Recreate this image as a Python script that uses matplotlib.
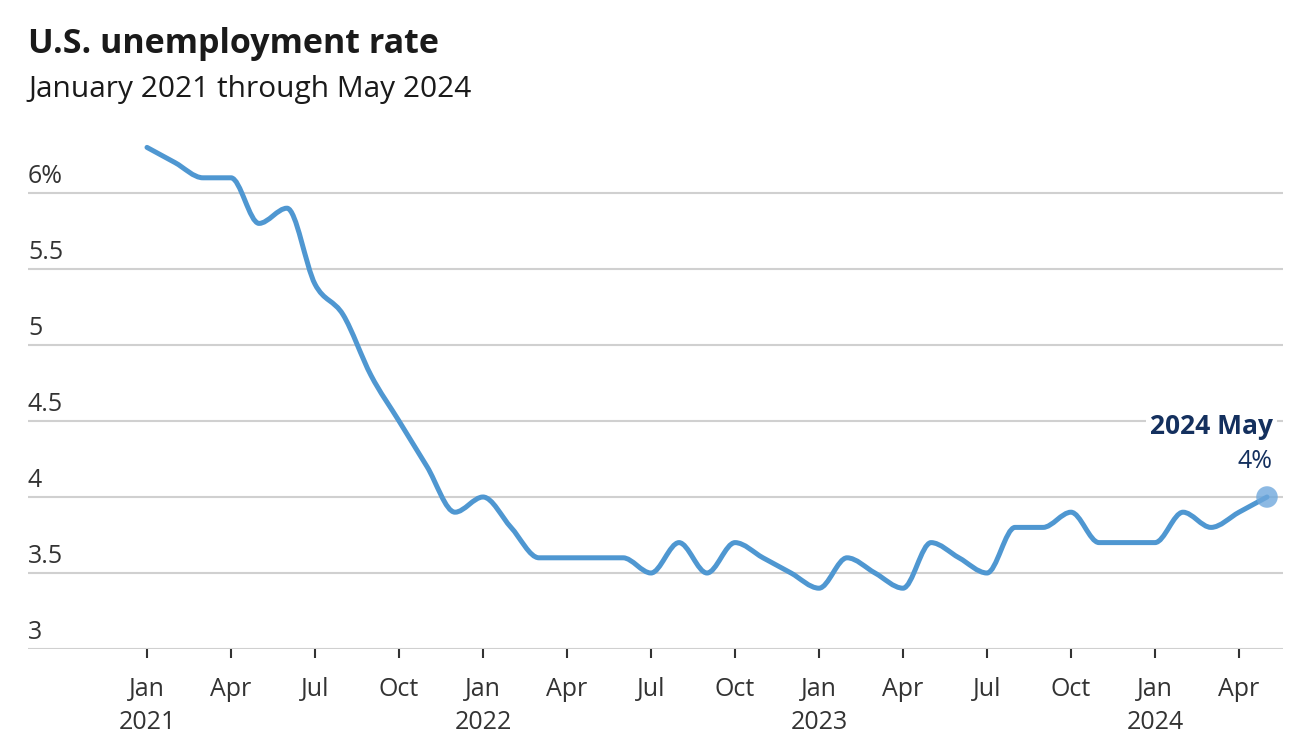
import numpy as np
import matplotlib
matplotlib.use('Agg')
import matplotlib.pyplot as plt
from matplotlib.path import Path
from matplotlib.patches import PathPatch
from matplotlib.transforms import offset_copy

# Monthly unemployment rate, Jan 2021 .. May 2024 (percent)
rate_2021 = [6.3, 6.2, 6.1, 6.1, 5.8, 5.9, 5.4, 5.2, 4.8, 4.5, 4.2, 3.9]
rate_2022 = [4.0, 3.8, 3.6, 3.6, 3.6, 3.6, 3.5, 3.7, 3.5, 3.7, 3.6, 3.5]
rate_2023 = [3.4, 3.6, 3.5, 3.4, 3.7, 3.6, 3.5, 3.8, 3.8, 3.9, 3.7, 3.7]
rate_2024 = [3.7, 3.9, 3.8, 3.9, 4.0]
rates = np.array(rate_2021 + rate_2022 + rate_2023 + rate_2024)
months = np.arange(len(rates))  # 0 = Jan 2021

month_names = ['Jan', 'Apr', 'Jul', 'Oct']
years = [2021, 2022, 2023, 2024]
y_ticks = [3, 3.5, 4, 4.5, 5, 5.5, 6]
y_labels = ['3', '3.5', '4', '4.5', '5', '5.5', '6%']

LINE = '#4f97d1'
GRID = '#d0d0d0'
TEXT = '#333333'
NAVY = '#14305e'


def monotone_path(x, y):
    # monotone cubic (like d3.curveMonotoneX) as bezier segments
    n = len(x)
    h = np.diff(x)
    d = np.diff(y) / h
    m = np.zeros(n)
    for i in range(1, n - 1):
        if d[i - 1] * d[i] > 0:
            p = (d[i - 1] * h[i] + d[i] * h[i - 1]) / (h[i - 1] + h[i])
            m[i] = (np.sign(d[i - 1]) + np.sign(d[i])) * min(abs(d[i - 1]), abs(d[i]), 0.5 * abs(p))
    m[0] = (3 * d[0] - m[1]) / 2
    m[-1] = (3 * d[-1] - m[-2]) / 2
    verts = [(x[0], y[0])]
    codes = [Path.MOVETO]
    for i in range(n - 1):
        dx = h[i] / 3
        verts += [(x[i] + dx, y[i] + dx * m[i]),
                  (x[i + 1] - dx, y[i + 1] - dx * m[i + 1]),
                  (x[i + 1], y[i + 1])]
        codes += [Path.CURVE4] * 3
    return Path(verts, codes)


plt.rcParams['font.family'] = ['Open Sans', 'DejaVu Sans']

fig = plt.figure(figsize=(13.03, 7.44), dpi=100)
W, H = 1303, 744
ax_left, ax_right, ax_bottom, ax_top = 28, 1283, 649, 120
ax = fig.add_axes([ax_left / W, (H - ax_bottom) / H,
                   (ax_right - ax_left) / W, (ax_bottom - ax_top) / H])

px_per_month = 28.0
ax.set_xlim((ax_left - 147) / px_per_month, (ax_right - 147) / px_per_month)
ax.set_ylim(3, 3 + (ax_bottom - ax_top) / 152.0)

# gridlines
for v in y_ticks:
    ax.axhline(v, color=GRID, lw=1.5, zorder=1)

# y labels sitting above gridlines
lab_tr = offset_copy(ax.get_yaxis_transform(), fig=fig, x=0, y=7.5, units='points')
for v, s in zip(y_ticks, y_labels):
    ax.text(0, v, s, transform=lab_tr, ha='left', va='baseline',
            fontsize=18, color=TEXT)

# line
ax.add_patch(PathPatch(monotone_path(months.astype(float), rates),
                       facecolor='none', edgecolor=LINE, lw=3.6,
                       capstyle='round', joinstyle='round', zorder=3))
ax.scatter([months[-1]], [rates[-1]], s=240, color='#6fa8dc', alpha=0.8,
           edgecolors='none', zorder=4)

# end annotation
ax.annotate('2024 May', xy=(months[-1], rates[-1]), xytext=(4, 45),
            textcoords='offset points', ha='right', va='baseline',
            fontsize=19, fontweight='bold', color=NAVY, zorder=5,
            bbox=dict(boxstyle='square,pad=0.15', fc='white', ec='none'))
ax.annotate('4%', xy=(months[-1], rates[-1]), xytext=(4, 21),
            textcoords='offset points', ha='right', va='baseline',
            fontsize=18, color=NAVY, zorder=5)

# x ticks every quarter
tick_pos = np.arange(0, len(rates), 3)
tick_lab = []
for t in tick_pos:
    name = month_names[(t % 12) // 3]
    tick_lab.append(f'{name}\n{years[t // 12]}' if t % 12 == 0 else name)
ax.set_xticks(tick_pos)
ax.set_xticklabels(tick_lab, fontsize=18, color=TEXT, linespacing=1.4)
ax.tick_params(axis='x', length=6.5, width=1.5, color=TEXT, pad=14)
ax.set_yticks([])

for sp in ax.spines.values():
    sp.set_visible(False)

fig.text(28 / W, 1 - 53 / H, 'U.S. unemployment rate', fontsize=24.5,
         fontweight='bold', color='#1a1a1a', ha='left', va='baseline')
fig.text(28 / W, 1 - 97 / H, 'January 2021 through May 2024', fontsize=21.5,
         color='#1a1a1a', ha='left', va='baseline')

fig.savefig('out.png', dpi=100)
